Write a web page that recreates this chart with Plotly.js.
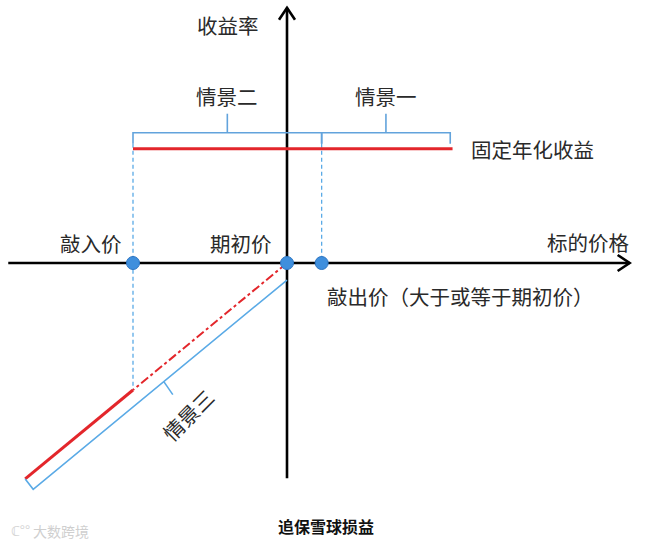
<!DOCTYPE html>
<html><head><meta charset="utf-8">
<script src="https://cdn.plot.ly/plotly-3.0.1.min.js"></script>
<style>html,body{margin:0;padding:0;background:#fff;}</style>
</head><body><div id="chart" style="width:651px;height:556px;"></div>
<script>
// ---- data (price in % of initial, return in %) ----
const keyPriceNames = ['敲入价', '期初价', '敲出价（大于或等于期初价）'];
const keyPrices = [80, 100, 104.5];
const couponRate = 18;                 // 固定年化收益
const couponPriceEnd = 121.5;
const lossPrices = [100, 80, 66];      // 期初价 -> 敲入价 -> 更低
const lossReturns = [0, -20, -34];
const scenarioNames = ['情景一', '情景二', '情景三'];
const scenarioRanges = [[104.5, 121.2], [80, 104.5], [66, 100]];
const axisNames = ['标的价格', '收益率'];
const axisX = [63.8, 144.5];
const axisY = [-33.9, 40.2];
const chartTitle = '追保雪球损益';

// ---- scale helpers ----
const W = 651, H = 556;
const xr = [62.727, 147.273], yr = [-46.14, 41.42];
const pxX = W / (xr[1] - xr[0]), pxY = H / (yr[1] - yr[0]);
const dx = p => p / pxX, dy = p => p / pxY;

const RED = '#e3262b', BLUE = '#5aaae6', BR = '#62a3dc', BLACK = '#000';
const traces = [];
function seg(xs, ys, color, width, dash) {
  traces.push({x: xs, y: ys, mode: 'lines', type: 'scatter', hoverinfo: 'skip',
    line: {color: color, width: width, dash: dash || 'solid'}, showlegend: false});
}
// axes
seg(axisX, [0, 0], BLACK, 2.6);
seg([axisX[1] - dx(12), axisX[1], axisX[1] - dx(12)], [dy(8), 0, -dy(8)], BLACK, 2.6);
seg([100, 100], axisY, BLACK, 2.6);
seg([100 - dx(8), 100, 100 + dx(8)], [axisY[1] - dy(12), axisY[1], axisY[1] - dy(12)], BLACK, 2.6);

// brace geometry
const braceTop = couponRate + dy(16), braceEnd = couponRate + dy(5), braceTick = couponRate + dy(35);
// dashed guides
seg([keyPrices[0], keyPrices[0]], [braceEnd, lossReturns[1]], BLUE, 1.3, '4px,3px');
seg([keyPrices[2], keyPrices[2]], [braceEnd, 0], BLUE, 1.3, '4px,3px');
// coupon line
seg([keyPrices[0], couponPriceEnd], [couponRate, couponRate], RED, 3);
// braces for 情景一/二
[scenarioRanges[0], scenarioRanges[1]].forEach(r => {
  const m = (r[0] + r[1]) / 2;
  seg([r[0], r[0], r[1], r[1]], [braceEnd, braceTop, braceTop, braceEnd], BR, 1.6);
  seg([m, m], [braceTop, braceTick], BR, 1.6);
});
// loss lines
seg(lossPrices.slice(0, 2), lossReturns.slice(0, 2), RED, 2, 'dashdot');
seg(lossPrices.slice(1), lossReturns.slice(1), RED, 3);
// bracket for 情景三 (offset below loss line)
const off = dy(17);
const r3 = scenarioRanges[2];
const bx0 = r3[0] + dx(8);
seg([r3[0], bx0, r3[1]], [r3[0] - 100, bx0 - 100 - off, r3[1] - 100 - off], BLUE, 1.6);
const tx = 84;
seg([tx, tx + dx(9)], [tx - 100 - off, tx - 100 - off - dy(13)], BLUE, 1.6);
// key price dots
traces.push({x: keyPrices, y: keyPrices.map(() => 0), mode: 'markers', type: 'scatter',
  hoverinfo: 'skip', showlegend: false,
  marker: {size: 13, color: '#3f8fdd', line: {color: '#2b74c2', width: 1}}});

const F = 'Noto Sans CJK SC, Noto Sans, sans-serif';
const txt = (x, y, t, o) => Object.assign({x: x, y: y, text: t, showarrow: false,
  font: {family: F, size: 20.5, color: '#2a2a2a'}, xanchor: 'center', yanchor: 'middle'}, o || {});
const ann = [
  txt(92.3, 37.5, axisNames[1]),
  txt(139.1, 3.3, axisNames[0]),
  txt(74.6, 3.1, keyPriceNames[0]),
  txt(94.0, 3.1, keyPriceNames[1]),
  txt(keyPrices[2] + dx(3), -5.2, keyPriceNames[2], {xanchor: 'left'}),
  txt((scenarioRanges[0][0] + scenarioRanges[0][1]) / 2, 26.3, scenarioNames[0]),
  txt((scenarioRanges[1][0] + scenarioRanges[1][1]) / 2, 26.3, scenarioNames[1]),
  txt(87.2, -23.8, scenarioNames[2], {textangle: -45}),
  txt(couponPriceEnd + dx(16), couponRate, '固定年化收益', {xanchor: 'left'}),
  {x: 0.5, y: 1 - 540 / H, xref: 'paper', yref: 'paper', text: '<b>' + chartTitle + '</b>',
   showarrow: false, font: {family: F, size: 16, color: '#111'}},
  {x: 61 / W, y: 1 - 543 / H, xref: 'paper', yref: 'paper', text: '大数跨境',
   xanchor: 'center', showarrow: false, font: {family: F, size: 14, color: '#cfcfcf'}},
  {x: 20 / W, y: 1 - 542 / H, xref: 'paper', yref: 'paper', text: 'ℂ°°',
   xanchor: 'center', showarrow: false, font: {family: F, size: 14, color: '#d6d6d6'}}
];

Plotly.newPlot('chart', traces, {
  width: W, height: H, margin: {l: 0, r: 0, t: 0, b: 0},
  paper_bgcolor: '#fff', plot_bgcolor: '#fff', showlegend: false,
  xaxis: {range: xr, visible: false, fixedrange: true},
  yaxis: {range: yr, visible: false, fixedrange: true},
  annotations: ann
}, {staticPlot: true});
</script></body></html>
